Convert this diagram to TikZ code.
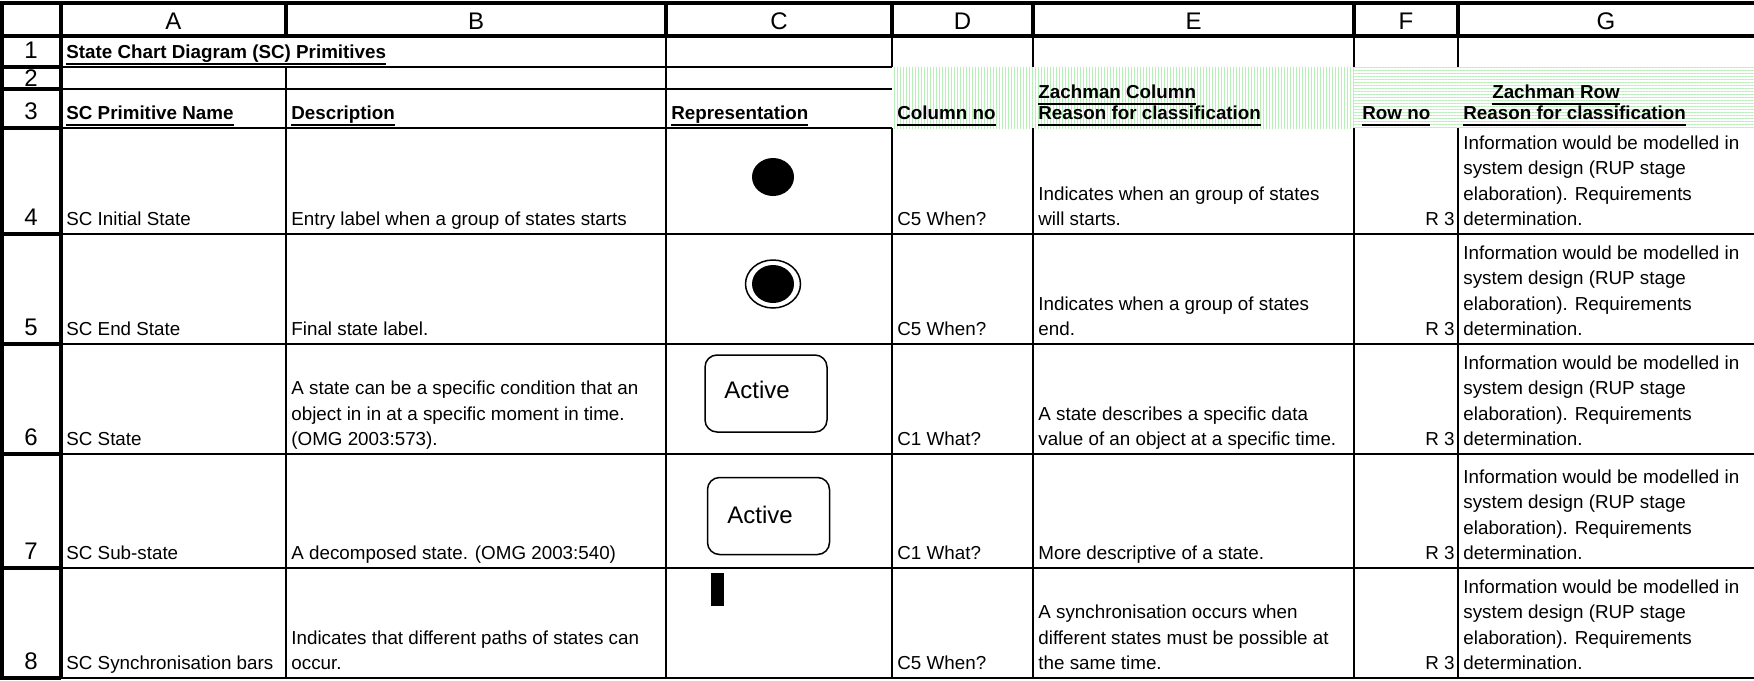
\documentclass[tikz,border=0pt]{standalone}
\usepackage{fontspec}
\setmainfont{Liberation Sans}
\usetikzlibrary{shapes.geometric,patterns.meta}
\definecolor{zgreen}{RGB}{185,240,185}
\newcommand\cellfont{\fontsize{9.4}{12.75}\selectfont}
\newcommand\hdrfont{\fontsize{12}{12.75}\selectfont}
\newcommand\actfont{\fontsize{12}{14}\selectfont}
% Excel-like bold underline
\newcommand\xlu[1]{\setbox0=\hbox{#1}\rlap{\rule[-3pt]{\wd0}{1.2pt}}\box0}
\begin{document}
\begin{tikzpicture}[x=0.5pt,y=-0.5pt,
  thingrid/.style={line width=0.75pt},
  thickgrid/.style={line width=1.75pt},
  cell/.style={anchor=south west,inner sep=0pt,align=left,font=\cellfont},
  bcell/.style={cell,font=\cellfont\bfseries},
  rcell/.style={anchor=south east,inner sep=0pt,font=\cellfont},
  colhdr/.style={anchor=base,inner sep=0pt,font=\hdrfont},
  rownum/.style={anchor=south,inner sep=0pt,font=\hdrfont},
  stateshape/.style={draw,line width=0.75pt,rounded corners=6pt,minimum width=61pt,minimum height=38.5pt,inner sep=0pt},
  dot/.style={ellipse,fill=black,minimum width=21pt,minimum height=19pt,inner sep=0pt},
  ring/.style={ellipse,draw,line width=0.75pt,minimum width=27.5pt,minimum height=24pt,inner sep=0pt},
  stripesv/.style={pattern={Lines[angle=90,distance=1.5pt,line width=0.5pt]},pattern color=zgreen},
  stripesh/.style={pattern={Lines[angle=0,distance=1.5pt,line width=0.5pt]},pattern color=zgreen}]
\useasboundingbox (0,0) rectangle (1754,680);
\fill[white] (0,0) rectangle (1754,680);

% shaded Zachman header cells
\fill[stripesv] (892,67) rectangle (1354,128);
\fill[stripesh] (1354,67) rectangle (1754,128);

% thin grid lines
\foreach \yy in {67,89,128} \draw[thingrid] (61,\yy) -- (892,\yy);
\foreach \yy in {234,344,454,568,678} \draw[thingrid] (61,\yy) -- (1754,\yy);
\draw[thingrid] (286,67) -- (286,678);
\draw[thingrid] (666,36) -- (666,678);
\foreach \xx in {892,1033,1354,1458} {
  \draw[thingrid] (\xx,36) -- (\xx,67);
  \draw[thingrid] (\xx,128) -- (\xx,678);
}

% sheet header row and column
\draw[thickgrid] (0,3) -- (1754,3);
\draw[thickgrid] (0,36) -- (1754,36);
\draw[thickgrid] (2,3) -- (2,679);
\draw[thickgrid] (61,3) -- (61,679);
\foreach \xx in {286,666,892,1033,1354,1458} \draw[thickgrid] (\xx,3) -- (\xx,36);
\foreach \yy in {67,89,128,234,344,454,568,678} \draw[thickgrid] (0,\yy) -- (61,\yy);

% column letters
\node[colhdr] (hA) at (173.5,29) {A};
\node[colhdr] (hB) at (476,29) {B};
\node[colhdr] (hC) at (779,29) {C};
\node[colhdr] (hD) at (962.5,29) {D};
\node[colhdr] (hE) at (1193.5,29) {E};
\node[colhdr] (hF) at (1406,29) {F};
\node[colhdr] (hG) at (1606,29) {G};

% row numbers
\node[rownum] (n1) at (31,67) {1\strut};
\node[rownum] (n2) at (31,95) {2\strut};
\node[rownum] (n3) at (31,128) {3\strut};
\node[rownum] (n4) at (31,234) {4\strut};
\node[rownum] (n5) at (31,344) {5\strut};
\node[rownum] (n6) at (31,454) {6\strut};
\node[rownum] (n7) at (31,568) {7\strut};
\node[rownum] (n8) at (31,678) {8\strut};

% rows 1-3: titles
\node[bcell] (title) at (66,67) {\xlu{State Chart Diagram (SC) Primitives}\strut};
\node[bcell] (zcol) at (1038,107) {\xlu{Zachman Column}\strut};
\node[anchor=south,inner sep=0pt,font=\cellfont\bfseries] (zrow) at (1556,107) {\xlu{Zachman Row}\strut};
\node[bcell] (t3a) at (66,128) {\xlu{SC Primitive Name}\strut};
\node[bcell] (t3b) at (291,128) {\xlu{Description}\strut};
\node[bcell] (t3c) at (671,128) {\xlu{Representation}\strut};
\node[bcell] (t3d) at (897,128) {\xlu{Column no}\strut};
\node[bcell] (t3e) at (1038,128) {\xlu{Reason for classification}\strut};
\node[bcell] (t3f) at (1362,128) {\xlu{Row no}\strut};
\node[bcell] (t3g) at (1463,128) {\xlu{Reason for classification}\strut};

% row 4
\node[cell] (a4) at (66,234) {SC Initial State\strut};
\node[cell] (b4) at (291,234) {Entry label when a group of states starts\strut};
\node[cell] (d4) at (897,234) {C5 When?\strut};
\node[cell] (e4) at (1038,234) {Indicates when an group of states\\will starts.\strut};
\node[rcell] (f4) at (1455,234) {R 3\strut};
\node[cell] (g4) at (1463,234) {Information would be modelled in\\system design (RUP stage\\elaboration). Requirements\\determination.\strut};
\node[dot] (initial) at (773,177) {};

% row 5
\node[cell] (a5) at (66,344) {SC End State\strut};
\node[cell] (b5) at (291,344) {Final state label.\strut};
\node[cell] (d5) at (897,344) {C5 When?\strut};
\node[cell] (e5) at (1038,344) {Indicates when a group of states\\end.\strut};
\node[rcell] (f5) at (1455,344) {R 3\strut};
\node[cell] (g5) at (1463,344) {Information would be modelled in\\system design (RUP stage\\elaboration). Requirements\\determination.\strut};
\node[ring] (finalring) at (773,284) {};
\node[dot] (finaldot) at (773,284) {};

% row 6
\node[cell] (a6) at (66,454) {SC State\strut};
\node[cell] (b6) at (291,454) {A state can be a specific condition that an\\object in in at a specific moment in time.\\(OMG 2003:573).\strut};
\node[cell] (d6) at (897,454) {C1 What?\strut};
\node[cell] (e6) at (1038,454) {A state describes a specific data\\value of an object at a specific time.\strut};
\node[rcell] (f6) at (1455,454) {R 3\strut};
\node[cell] (g6) at (1463,454) {Information would be modelled in\\system design (RUP stage\\elaboration). Requirements\\determination.\strut};
\node[stateshape] (state) at (766,393.5) {};
\node[anchor=base west,inner sep=0pt,font=\actfont] (statelbl) at (724,398) {Active};

% row 7
\node[cell] (a7) at (66,568) {SC Sub-state\strut};
\node[cell] (b7) at (291,568) {A decomposed state. (OMG 2003:540)\strut};
\node[cell] (d7) at (897,568) {C1 What?\strut};
\node[cell] (e7) at (1038,568) {More descriptive of a state.\strut};
\node[rcell] (f7) at (1455,568) {R 3\strut};
\node[cell] (g7) at (1463,568) {Information would be modelled in\\system design (RUP stage\\elaboration). Requirements\\determination.\strut};
\node[stateshape] (substate) at (768.5,516) {};
\node[anchor=base west,inner sep=0pt,font=\actfont] (substatelbl) at (727,523) {Active};

% row 8
\node[cell] (a8) at (66,678) {SC Synchronisation bars\strut};
\node[cell] (b8) at (291,678) {Indicates that different paths of states can\\occur.\strut};
\node[cell] (d8) at (897,678) {C5 When?\strut};
\node[cell] (e8) at (1038,678) {A synchronisation occurs when\\different states must be possible at\\the same time.\strut};
\node[rcell] (f8) at (1455,678) {R 3\strut};
\node[cell] (g8) at (1463,678) {Information would be modelled in\\system design (RUP stage\\elaboration). Requirements\\determination.\strut};
\node[fill=black,minimum width=6.5pt,minimum height=16.5pt,inner sep=0pt] (syncbar) at (717.5,589.5) {};
\end{tikzpicture}
\end{document}
